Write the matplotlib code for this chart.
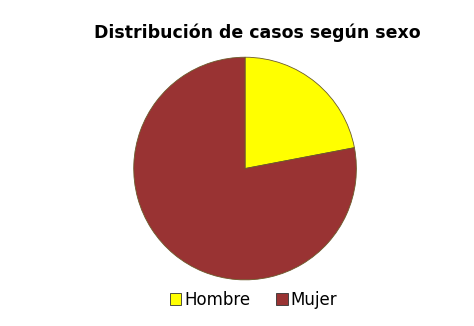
import matplotlib
matplotlib.use("Agg")
import matplotlib.pyplot as plt
from matplotlib.patches import Patch

categories = ["Hombre", "Mujer"]
values = [22, 78]
colors = ["#FFFF00", "#993333"]
title = "Distribución de casos según sexo"

fig = plt.figure(figsize=(4.74, 3.26), dpi=100)
fig.patch.set_facecolor("white")
ax = fig.add_axes([0.282, 0.1415, 0.47, 0.683])
ax.pie(values, colors=colors, startangle=90, counterclock=False,
       wedgeprops=dict(edgecolor="#6b5a2a", linewidth=0.6))
ax.set_xlim(-1, 1)
ax.set_ylim(-1, 1)
ax.set_aspect("equal")

fig.text(0.543, 0.899, title, ha="center", va="center", fontsize=12.5,
         fontweight="bold", family="DejaVu Sans")

handles = [Patch(facecolor=c, edgecolor="#333333", linewidth=0.6) for c in colors]
fig.legend(handles, categories, loc="center", bbox_to_anchor=(0.535, 0.08),
           ncol=2, frameon=False, prop=dict(family="DejaVu Sans", size=12),
           handlelength=0.7, handleheight=0.7, handletextpad=0.2, columnspacing=1.5)

fig.savefig("out.png", dpi=100)
